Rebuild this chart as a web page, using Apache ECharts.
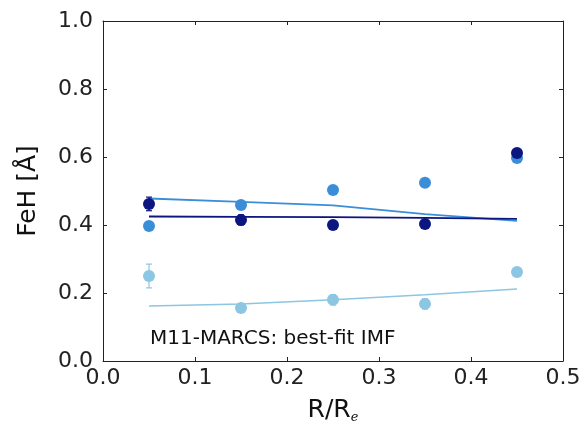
<!DOCTYPE html>
<html>
<head>
<meta charset="utf-8">
<script src="https://cdn.jsdelivr.net/npm/echarts@6/dist/echarts.min.js"></script>
<style>
  html, body { margin: 0; padding: 0; background: #fff; }
  #chart { width: 585px; height: 433px; }
</style>
</head>
<body>
<div id="chart"></div>
<script>
// Radial bins (R / R_e)
const radius = [0.05, 0.15, 0.25, 0.35, 0.45];

// Measured FeH index strengths for three galaxies
const galaxyA = [0.462, 0.415, 0.400, 0.403, 0.612];
const galaxyB = [0.397, 0.459, 0.503, 0.524, 0.597];
const galaxyC = [0.250, 0.156, 0.180, 0.168, 0.262];

// Symmetric uncertainties
const errA = [0.020, 0.015, 0.010, 0.010, 0.010];
const errB = [0.012, 0.008, 0.008, 0.008, 0.008];
const errC = [0.035, 0.010, 0.015, 0.015, 0.010];

// Model predictions with the best-fit IMF
const modelA = [0.425, 0.424, 0.423, 0.421, 0.418];
const modelB = [0.478, 0.468, 0.458, 0.432, 0.412];
const modelC = [0.162, 0.168, 0.180, 0.195, 0.212];

const colA = '#0c1580';
const colB = '#3a8ed8';
const colC = '#8cc6e2';

const font = 'DejaVu Sans';

function pairs(xs, ys) { return xs.map((x, i) => [x, ys[i]]); }

function errorSeries(vals, errs, color) {
  return {
    type: 'custom',
    data: radius.map((x, i) => [x, vals[i] - errs[i], vals[i] + errs[i]]),
    z: 2,
    renderItem: function (params, api) {
      const lo = api.coord([api.value(0), api.value(1)]);
      const hi = api.coord([api.value(0), api.value(2)]);
      const cap = 3;
      const style = { stroke: color, lineWidth: 1.2 };
      return {
        type: 'group',
        children: [
          { type: 'line', shape: { x1: lo[0], y1: lo[1], x2: hi[0], y2: hi[1] }, style },
          { type: 'line', shape: { x1: lo[0] - cap, y1: lo[1], x2: lo[0] + cap, y2: lo[1] }, style },
          { type: 'line', shape: { x1: hi[0] - cap, y1: hi[1], x2: hi[0] + cap, y2: hi[1] }, style }
        ]
      };
    }
  };
}

function pointSeries(vals, color) {
  return {
    type: 'scatter',
    data: pairs(radius, vals),
    symbol: 'circle',
    symbolSize: 12,
    itemStyle: { color: color, opacity: 1 },
    z: 3
  };
}

function modelSeries(vals, color, width) {
  return {
    type: 'line',
    data: pairs(radius, vals),
    showSymbol: false,
    lineStyle: { color: color, width: width },
    z: 1
  };
}

const chart = echarts.init(document.getElementById('chart'));

const axisCommon = {
  axisLine: { show: true, onZero: false, lineStyle: { color: '#222', width: 1 } },
  axisTick: { show: true, inside: true, length: 4, lineStyle: { color: '#222' } },
  splitLine: { show: false }
};

chart.setOption({
  animation: false,
  backgroundColor: '#fff',
  grid: { left: 103, right: 22, top: 21, bottom: 72, containLabel: false },
  xAxis: [
    Object.assign({}, axisCommon, {
      type: 'value', min: 0, max: 0.5, interval: 0.1, position: 'bottom',
      axisLabel: {
        color: '#222', fontFamily: font, fontSize: 22, margin: 6,
        formatter: v => v.toFixed(1)
      },
      name: '{m|R/R}{s|e}', nameLocation: 'middle', nameGap: 36,
      nameTextStyle: {
        rich: {
          m: { fontFamily: font, fontSize: 25, color: '#111' },
          s: { fontFamily: 'DejaVu Serif', fontStyle: 'italic', fontSize: 13, color: '#111', verticalAlign: 'bottom', padding: [14, 0, 0, 0] }
        }
      }
    }),
    Object.assign({}, axisCommon, {
      type: 'value', min: 0, max: 0.5, interval: 0.1, position: 'top',
      axisLabel: { show: false }
    })
  ],
  yAxis: [
    Object.assign({}, axisCommon, {
      type: 'value', min: 0, max: 1, interval: 0.2, position: 'left',
      axisLabel: {
        color: '#222', fontFamily: font, fontSize: 22, margin: 10,
        formatter: v => v.toFixed(1)
      },
      name: 'FeH [Å]', nameLocation: 'middle', nameGap: 62, nameRotate: 90,
      nameTextStyle: { fontFamily: font, fontSize: 25, color: '#111' }
    }),
    Object.assign({}, axisCommon, {
      type: 'value', min: 0, max: 1, interval: 0.2, position: 'right',
      axisLabel: { show: false }
    })
  ],
  graphic: [
    {
      type: 'text',
      left: 150, top: 329,
      style: { text: 'M11-MARCS: best-fit IMF', fontFamily: font, fontSize: 20, fill: '#111' }
    }
  ],
  series: [
    modelSeries(modelC, colC, 1.5),
    modelSeries(modelB, colB, 1.8),
    modelSeries(modelA, colA, 1.8),
    errorSeries(galaxyC, errC, colC),
    errorSeries(galaxyB, errB, colB),
    errorSeries(galaxyA, errA, colA),
    pointSeries(galaxyC, colC),
    pointSeries(galaxyB, colB),
    pointSeries(galaxyA, colA)
  ]
});
</script>
</body>
</html>
